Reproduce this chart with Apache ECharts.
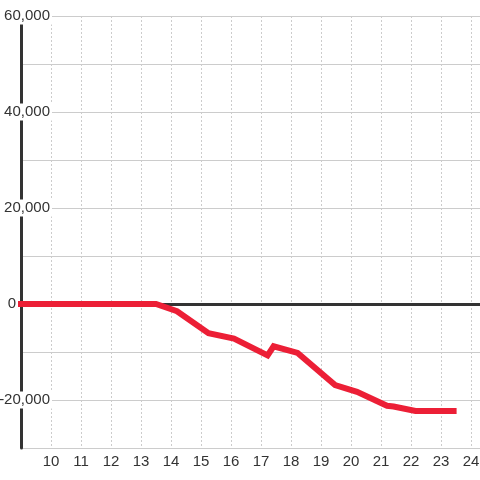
<!DOCTYPE html>
<html>
<head>
<meta charset="utf-8">
<script src="https://cdn.jsdelivr.net/npm/echarts@6/dist/echarts.min.js"></script>
<style>html,body{margin:0;padding:0;background:#fff}#c{width:480px;height:480px}</style>
</head>
<body>
<div id="c"></div>
<script>
var xValues = [9, 13.5, 14.2, 15.25, 16.1, 17.22, 17.42, 18.22, 19.47, 20.2, 21.2, 21.42, 22.15, 23.42];
var yValues = [0, 0, -1500, -6100, -7200, -10700, -8800, -10200, -16900, -18300, -21200, -21350, -22300, -22300];
var yLabeled = [60000, 40000, 20000, 0, -20000];

var font = 'Liberation Sans, Arial, sans-serif';
var chart = echarts.init(document.getElementById('c'), null, {renderer: 'canvas'});
var data = xValues.map(function (x, i) { return [x, yValues[i]]; });

chart.setOption({
  animation: false,
  backgroundColor: '#fff',
  grid: {left: 21, right: 0, top: 16, bottom: 32, containLabel: false, outerBoundsMode: 'none'},
  xAxis: [{
    type: 'value', min: 9, max: 24.3, interval: 1, position: 'bottom', z: 0,
    axisLine: {show: false, onZero: false},
    axisTick: {show: false},
    axisLabel: {show: true, showMinLabel: false, showMaxLabel: false, hideOverlap: false, margin: 6, color: '#333', fontSize: 15, fontFamily: font,
      formatter: function (v) { return (Number.isInteger(v) && v > 9) ? String(v) : ''; }},
    splitLine: {show: true, lineStyle: {color: '#ccc', width: 1, type: [2, 2]}}
  }, {
    type: 'value', min: 9, max: 24.3, z: 1,
    axisLine: {show: true, onZero: true, onZeroAxisIndex: 0, lineStyle: {color: '#333', width: 3}},
    axisTick: {show: false}, axisLabel: {show: false}, splitLine: {show: false}
  }],
  yAxis: [{
    type: 'value', min: -30000, max: 60000, interval: 10000, z: 0,
    axisLine: {show: false}, axisTick: {show: false}, axisLabel: {show: false},
    splitLine: {show: true, lineStyle: {color: '#ccc', width: 1}}
  }, {
    type: 'value', min: -30000, max: 60000, interval: 10000, position: 'left', z: 1,
    axisLine: {show: true, onZero: false, lineStyle: {color: '#333', width: 3}},
    axisTick: {show: false},
    splitLine: {show: false},
    axisLabel: {
      show: true, inside: true, margin: 31, align: 'right', verticalAlign: 'middle', hideOverlap: false,
      formatter: function (v) {
        if (yLabeled.indexOf(v) < 0) return '';
        if (v === 0) return '{z|0}';
        return '{a|' + echarts.format.addCommas(v) + '}';
      },
      rich: {
        a: {color: '#333', fontSize: 15, fontFamily: font, backgroundColor: '#fff', padding: [1, 2, 1, 3]},
        z: {color: '#333', fontSize: 15, fontFamily: font, padding: [0, 36, 0, 0]}
      }
    }
  }],
  series: [{
    type: 'line', xAxisIndex: 0, yAxisIndex: 0, z: 2,
    data: data, symbol: 'none', showSymbol: false,
    lineStyle: {color: '#ec1f36', width: 6, join: 'miter', cap: 'square'}
  }]
});
</script>
</body>
</html>
